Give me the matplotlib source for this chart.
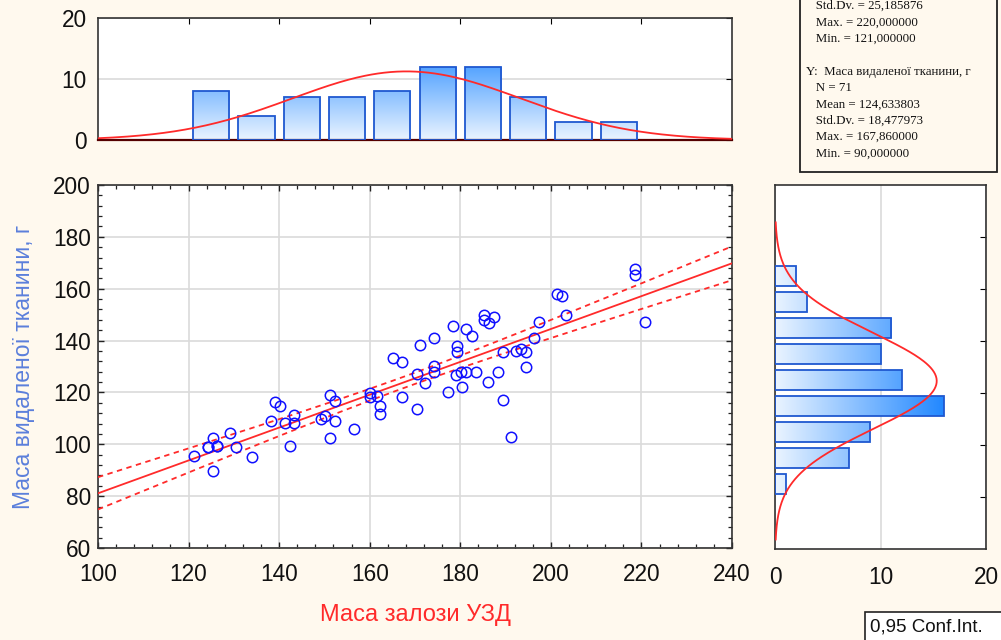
import numpy as np
import matplotlib
matplotlib.use("Agg")
import matplotlib.pyplot as plt
from matplotlib.patches import Rectangle
from matplotlib.colors import LinearSegmentedColormap
from matplotlib.ticker import MultipleLocator

# ---------------- data ----------------
gland_mass = [121.3, 124.2, 125.4, 126.3, 125.4, 129.1, 130.4, 134.1, 138.2, 139.1,
              140.2, 141.2, 142.4, 143.2, 143.2, 149.2, 150.2, 151.2, 152.4, 152.4,
              151.2, 156.5, 160.1, 160.1, 161.6, 162.3, 162.3, 165.2, 167.2, 167.2,
              170.5, 170.5, 171.2, 172.2, 174.3, 174.3, 174.3, 177.2, 178.3, 179.3,
              179.3, 179.1, 180.2, 180.4, 181.3, 181.3, 182.5, 183.4, 185.3, 185.3,
              186.3, 187.5, 186.2, 188.3, 189.5, 189.5, 191.3, 192.3, 193.4, 194.6,
              194.5, 196.2, 197.4, 201.4, 202.4, 203.3, 218.6, 218.6, 220.7,
              124.2, 126.3]
removed_mass = [95.3, 98.9, 102.3, 99.4, 89.8, 104.2, 98.8, 95.0, 108.8, 116.4,
                114.7, 108.3, 99.4, 111.2, 108.1, 109.7, 110.9, 119.1, 116.7, 109.1,
                102.3, 105.8, 119.8, 118.3, 118.8, 114.7, 111.8, 133.2, 131.8, 118.3,
                127.2, 113.8, 138.3, 123.7, 140.8, 130.3, 128.0, 120.2, 145.6, 138.0,
                135.7, 126.8, 127.8, 122.2, 128.0, 144.6, 141.8, 127.8, 149.7, 147.9,
                146.7, 149.2, 124.2, 127.8, 135.7, 116.9, 102.8, 136.1, 136.7, 135.7,
                129.7, 140.8, 147.2, 158.1, 157.1, 149.7, 167.6, 165.1, 147.2,
                98.9, 99.4]

x_bin_centers = [125, 135, 145, 155, 165, 175, 185, 195, 205, 215]
x_bin_counts = [8, 4, 7, 7, 8, 12, 12, 7, 3, 3]
y_bin_centers = [85, 95, 105, 115, 125, 135, 145, 155, 165]
y_bin_counts = [1, 7, 9, 16, 12, 10, 11, 3, 2]

N_OBS = 71
STD_X = 25.185876
MEAN_Y = 124.633803
STD_Y = 18.477973

stats_lines = [
    "   Std.Dv. = 25,185876",
    "   Max. = 220,000000",
    "   Min. = 121,000000",
    "",
    "Y:  Маса видаленої тканини, г",
    "   N = 71",
    "   Mean = 124,633803",
    "   Std.Dv. = 18,477973",
    "   Max. = 167,860000",
    "   Min. = 90,000000",
]

# ---------------- style ----------------
W, H = 1001, 640
BG = '#fff9ee'
GRID = '#dadada'
EDGE = '#1f58d0'
RED = '#ff2a2a'
cmap = LinearSegmentedColormap.from_list('bl', ['#eaf4ff', '#2288ff'])
VMAX = 16.0
FONT = 'Liberation Sans'
plt.rcParams['font.family'] = [FONT, 'DejaVu Sans']
TICK_FS = 16.3

fig = plt.figure(figsize=(W / 100, H / 100), dpi=100, facecolor=BG)


def fr(l, t, r, b):
    return [l / W, 1 - b / H, (r - l) / W, (b - t) / H]


ax = fig.add_axes(fr(98, 185, 732, 548))
axt = fig.add_axes(fr(98, 18, 732, 140))
axs = fig.add_axes(fr(775, 185, 986, 549))

xmin, xmax = 100, 240
ymin, ymax = 60, 200

# ---------- main scatter ----------
x = np.array(gland_mass)
y = np.array(removed_mass)
b1, b0 = np.polyfit(x, y, 1)
n = len(x)
mx = x.mean()
res = y - (b0 + b1 * x)
s = np.sqrt(np.sum(res ** 2) / (n - 2))
sxx = np.sum((x - mx) ** 2)
t = 1.994
xs = np.linspace(xmin, xmax, 200)
yfit = b0 + b1 * xs
half = t * s * np.sqrt(1 / n + (xs - mx) ** 2 / sxx)

ax.plot(x, y, 'o', mfc='none', mec='#1010ff', ms=7.5, mew=1.1, zorder=4)
ax.plot(xs, yfit, color=RED, lw=1.3, zorder=3)
ax.plot(xs, yfit + half, color=RED, lw=1.3, ls=(0, (3, 2.5)), zorder=3)
ax.plot(xs, yfit - half, color=RED, lw=1.3, ls=(0, (3, 2.5)), zorder=3)
ax.set_xlim(xmin, xmax)
ax.set_ylim(ymin, ymax)
ax.xaxis.set_major_locator(MultipleLocator(20))
ax.yaxis.set_major_locator(MultipleLocator(20))
ax.xaxis.set_minor_locator(MultipleLocator(4))
ax.yaxis.set_minor_locator(MultipleLocator(4))
ax.grid(True, which='major', color=GRID, lw=1.2)
ax.set_axisbelow(True)
ax.tick_params(which='both', direction='in', top=True, right=True, colors='#222222',
               labelcolor='#111111', labelsize=TICK_FS)
ax.tick_params(which='major', length=4, width=1)
ax.tick_params(which='minor', length=3, width=0.9)
ax.tick_params(axis='x', pad=11)
ax.tick_params(axis='y', pad=5)
ax.set_xlabel('Маса залози УЗД', color=RED, fontsize=17, labelpad=13)
ax.set_ylabel('Маса видаленої тканини, г', color='#5b7fdb', fontsize=16.5, labelpad=13)

for a in (ax, axt, axs):
    a.set_facecolor('white')
    for sp in a.spines.values():
        sp.set_color('#333333')
        sp.set_linewidth(1.2)


def grad_bar(a, x0, y0, w, h, vertical):
    rect = Rectangle((x0, y0), w, h, facecolor='none', edgecolor=EDGE, lw=1.3, zorder=3)
    a.add_patch(rect)
    if vertical:
        g = np.linspace(0, h / VMAX, 256).reshape(-1, 1)
    else:
        g = np.linspace(0, w / VMAX, 256).reshape(1, -1)
    im = a.imshow(g, cmap=cmap, vmin=0, vmax=1, extent=(x0, x0 + w, y0, y0 + h),
                  origin='lower', aspect='auto', zorder=2, interpolation='bilinear')
    im.set_clip_path(rect)


# ---------- top histogram ----------
for c, k in zip(x_bin_centers, x_bin_counts):
    grad_bar(axt, c - 4, 0, 8, k, True)
mean_x = float(np.mean(x))
xc = np.linspace(xmin, xmax, 300)
axt.plot(xc, N_OBS * 10 * np.exp(-0.5 * ((xc - mean_x) / STD_X) ** 2) / (STD_X * np.sqrt(2 * np.pi)),
         color=RED, lw=1.3, zorder=4)
axt.set_xlim(xmin, xmax)
axt.set_ylim(0, 20)
axt.set_yticks([0, 10, 20])
axt.set_xticks(np.arange(120, 221, 20))
axt.yaxis.grid(True, color=GRID, lw=1.2)
axt.set_axisbelow(True)
axt.spines['bottom'].set_color('#550000')
axt.spines['bottom'].set_linewidth(1.6)
axt.tick_params(axis='x', direction='in', top=True, bottom=False, labelbottom=False, length=4)
axt.tick_params(axis='y', direction='in', right=True, left=False, length=4,
                labelsize=TICK_FS, labelcolor='#111111', pad=8)

# ---------- side histogram ----------
for c, k in zip(y_bin_centers, y_bin_counts):
    grad_bar(axs, 0, c - 4, k, 8, False)
yc = np.linspace(MEAN_Y - 3.3 * STD_Y, MEAN_Y + 3.3 * STD_Y, 300)
axs.plot(N_OBS * 10 * np.exp(-0.5 * ((yc - MEAN_Y) / STD_Y) ** 2) / (STD_Y * np.sqrt(2 * np.pi)), yc,
         color=RED, lw=1.3, zorder=4)
axs.set_xlim(0, 20)
axs.set_ylim(ymin, ymax)
axs.set_xticks([0, 10, 20])
axs.set_yticks(np.arange(80, 181, 20))
axs.xaxis.grid(True, color=GRID, lw=1.2)
axs.set_axisbelow(True)
axs.tick_params(axis='y', direction='in', left=False, right=True, labelleft=False, length=4)
axs.tick_params(axis='x', direction='in', length=0, labelsize=TICK_FS, labelcolor='#111111', pad=12)

# ---------- stats box ----------
fig.patches.append(Rectangle((800 / W, 1 - 172 / H), 197 / W, 180 / H, transform=fig.transFigure,
                             facecolor=BG, edgecolor='#222222', lw=1.3, zorder=0))
for i, txt in enumerate(stats_lines):
    fig.text(806 / W, 1 - (6 + i * 16.4) / H, txt, fontsize=9.3,
             family=['Liberation Serif', 'DejaVu Serif'],
             va='center', ha='left', color='#111111')

# ---------- conf int box ----------
fig.patches.append(Rectangle((865 / W, 1 - 642 / H), 140 / W, 30 / H, transform=fig.transFigure,
                             facecolor='white', edgecolor='#222222', lw=1.2, zorder=0))
fig.text(870 / W, 1 - 627 / H, '0,95 Conf.Int.', fontsize=13.5, va='center', ha='left', color='#111111')

fig.savefig('out.png', dpi=100, facecolor=BG)
